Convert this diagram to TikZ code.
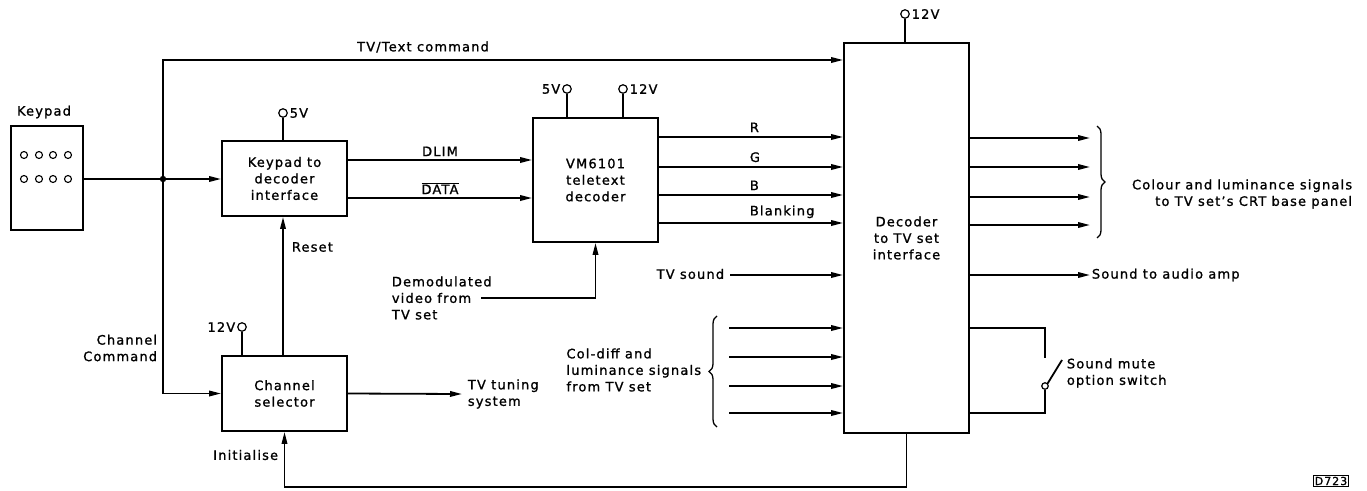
\documentclass[tikz,border=0pt]{standalone}
\usepackage{fontspec}
\setsansfont{DejaVu Sans}[LetterSpace=9,FakeBold=1.2]
\usepackage{tikz}
\usetikzlibrary{arrows.meta,decorations.pathreplacing,positioning}
\newcommand{\ovl}[1]{$\overline{\hbox{#1}}$}
\tikzset{
  tt diagram/.style={font=\sffamily\fontsize{13}{16.5}\selectfont,
    line width=1.8pt, line join=miter},
  tt box/.style={draw, line width=1.8pt, align=center, inner sep=2pt},
  tt arrow/.style={-{Triangle[length=12pt,width=5.5pt]}, line width=1.8pt},
  tt line/.style={line width=1.8pt},
  tt label/.style={align=left, inner sep=1pt},
  tt term/.style={circle, draw, line width=1.2pt, inner sep=0pt, minimum size=8.5pt},
  tt key/.style={circle, draw, line width=1.1pt, inner sep=0pt, minimum size=7pt},
  tt brace/.style={decorate, decoration={brace, amplitude=8pt}, line width=1.3pt}
}
\begin{document}
\begin{tikzpicture}[tt diagram, x=1pt, y=-1pt]
\useasboundingbox (0,0) rectangle (1367,490);
% blocks
\node[tt box, minimum width=72pt, minimum height=104pt] (keypad) at (47,178) {};
\node[tt label] at (44,112) {Keypad};
\foreach \kx in {24,39,53,68}{
  \node[tt key] at (\kx,155) {};
  \node[tt key] at (\kx,179) {};
}
\node[tt box, minimum width=125pt, minimum height=75pt] (kdi) at (284.5,178.5) {Keypad to\\decoder\\interface};
\node[tt box, minimum width=125pt, minimum height=124pt] (vm) at (595.5,180) {VM6101\\teletext\\decoder};
\node[tt box, minimum width=125pt, minimum height=390pt] (dec) at (906.5,238) {Decoder\\to TV set\\interface};
\node[tt box, minimum width=125pt, minimum height=75pt] (chs) at (284.5,393.5) {Channel\\selector};
% supply terminals
\node[tt term, label={[inner sep=1pt]right:5V}] (t5a) at (283,113) {};
\draw[tt line] (t5a) -- (t5a |- kdi.north);
\node[tt term, label={[inner sep=1pt]left:5V}] (t5b) at (567,89) {};
\draw[tt line] (t5b) -- (t5b |- vm.north);
\node[tt term, label={[inner sep=1pt]right:12V}] (t12a) at (623,89) {};
\draw[tt line] (t12a) -- (t12a |- vm.north);
\node[tt term, label={[inner sep=1pt]right:12V}] (t12b) at (905,14) {};
\draw[tt line] (t12b) -- (t12b |- dec.north);
\node[tt term, label={[inner sep=1pt]left:12V}] (t12c) at (242,327) {};
\draw[tt line] (t12c) -- (t12c |- chs.north);
% keypad bus
\coordinate (jn) at (163,179);
\fill (jn) circle (3.2pt);
\draw[tt line] (keypad.east |- jn) -- (jn);
\draw[tt arrow] (jn) -- (kdi.west |- jn);
\draw[tt arrow] (jn) |- (dec.west |- 0,60);
\node[tt label] at (423,47) {TV/Text command};
\draw[tt arrow] (jn) |- (chs.west);
\node[tt label, align=right, anchor=east] at (159,348) {Channel\\Command};
\draw[tt arrow] (chs.north -| 283,0) -- (kdi.south -| 283,0);
\node[tt label, anchor=west] at (290,247) {Reset};
% interface to decoder
\draw[tt arrow] (kdi.east |- 0,160) -- (vm.west |- 0,160) node[tt label, pos=0.5, above=2pt] {DLIM};
\draw[tt arrow] (kdi.east |- 0,198) -- (vm.west |- 0,198) node[tt label, pos=0.5, above=2pt] {\ovl{DATA}};
% video in
\coordinate (vin) at (481,298);
\draw[tt arrow] (vin) -| (vm.south);
\node[tt label, anchor=west] at (390,298) {Demodulated\\video from\\TV set};
% RGB outputs
\foreach \ry/\rname in {137/R,167/G,195/B,223/Blanking}{
  \draw[tt arrow] (vm.east |- 0,\ry) -- (dec.west |- 0,\ry);
  \node[tt label, anchor=south west] at (748,\ry-3) {\rname};
}
% TV sound
\coordinate (snd) at (730,275);
\draw[tt arrow] (snd) -- (dec.west |- snd);
\node[tt label, anchor=east] at (726,274) {TV sound};
% col-diff inputs
\foreach \cy in {328,357,386,413}{
  \draw[tt arrow] (729,\cy) coordinate (cin) -- (dec.west |- cin);
}
\draw[tt brace] (717,427) -- (717,316);
\node[tt label, anchor=east] at (703,370) {Col-diff and\\luminance signals\\from TV set};
% decoder outputs
\foreach \oy in {138,167,197,225}{
  \draw[tt arrow] (dec.east |- 0,\oy) -- (1090,\oy);
}
\draw[tt brace] (1097,126) -- (1097,238);
\node[tt label, align=right, anchor=east] at (1354,194) {Colour and luminance signals\\to TV set's CRT base panel};
\draw[tt arrow] (dec.east |- 0,275) -- (1090,275) node[tt label, anchor=west] {Sound to audio amp};
% mute switch
\node[circle, draw, line width=1.2pt, inner sep=0pt, minimum size=6.5pt] (sw) at (1045,386) {};
\draw[tt line] (dec.east |- 0,328) -| (1045,358);
\draw[tt line] (dec.east |- 0,413) -| (sw.south);
\draw[tt line] (sw.north east) -- (1062,360);
\node[tt label, anchor=west] at (1065,373) {Sound mute\\option switch};
% initialise feedback
\draw[tt arrow] (dec.south) -- (dec.south |- 0,487) -| (chs.south);
\node[tt label, anchor=east] at (280,455) {Initialise};
% channel selector output
\draw[tt arrow] (chs.east) -- (462,394);
\node[tt label, anchor=west] at (466,394) {TV tuning\\system};
% figure tag
\node[draw, line width=1.2pt, inner sep=1pt, font=\sffamily\fontsize{11}{11}\selectfont] (tag) at (1331,481) {D723};
\end{tikzpicture}
\end{document}
